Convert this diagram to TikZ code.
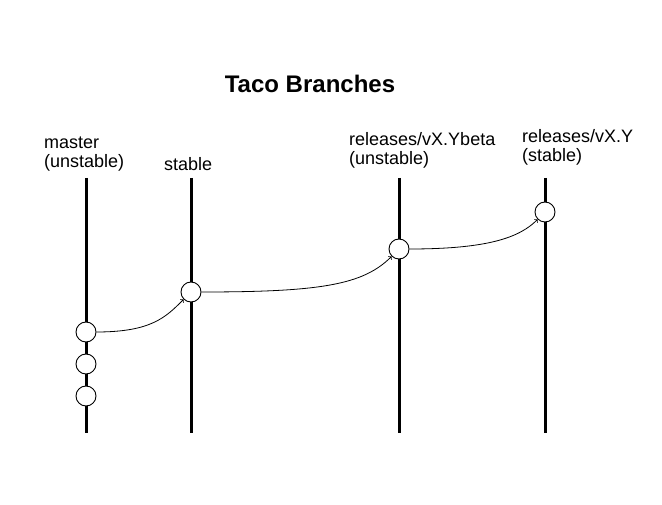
\documentclass[tikz,border=0pt]{standalone}
\usepackage{fontspec}
\setmainfont{Liberation Sans}
\tikzset{branch/.style={line width=3pt},
    commit/.style={circle,draw,fill=white,line width=0.9pt,minimum size=20pt,inner sep=0pt},
    lbl/.style={align=left,anchor=base west,inner sep=0pt,font=\fontsize{18}{19}\selectfont},
    }
\begin{document}
\begin{tikzpicture}[x=1pt,y=1pt]
\useasboundingbox (0,0) rectangle (662,504);
\node[anchor=base,inner sep=0pt,font=\fontsize{24}{26}\selectfont\bfseries] (title) at (310,411) {Taco Branches};
% branch names
\node[lbl] (lm) at (44,336) {master\\(unstable)};
\node[lbl] (ls) at (164,333) {stable};
\node[lbl] (lb) at (349,339) {releases/vX.Ybeta\\(unstable)};
\node[lbl] (lr) at (522,342) {releases/vX.Y\\(stable)};
% branches
\draw[branch] (86,326) coordinate (mtop) -- (86,71) coordinate (mbot);
\draw[branch] (191,326) coordinate (stop) -- (191,71) coordinate (sbot);
\draw[branch] (399,326) coordinate (btop) -- (399,71) coordinate (bbot);
\draw[branch] (545,326) coordinate (rtop) -- (545,71) coordinate (rbot);
% commits
\node[commit] (m1) at (86,172) {};
\node[commit] (m2) at (86,140) {};
\node[commit] (m3) at (86,108) {};
\node[commit] (s) at (191,212) {};
\node[commit] (b) at (399,255) {};
\node[commit] (r) at (545,292) {};

\draw[line width=0.8pt,->] (m1.east)..controls +(east:55) and +(south west:25)..(s.south west);
\draw[line width=0.8pt,->] (s.east)..controls +(east:120) and +(south west:40)..(b.south west);
\draw[line width=0.8pt,->] (b.east)..controls +(east:80) and +(south west:25)..(r.south west);
\end{tikzpicture}
\end{document}
